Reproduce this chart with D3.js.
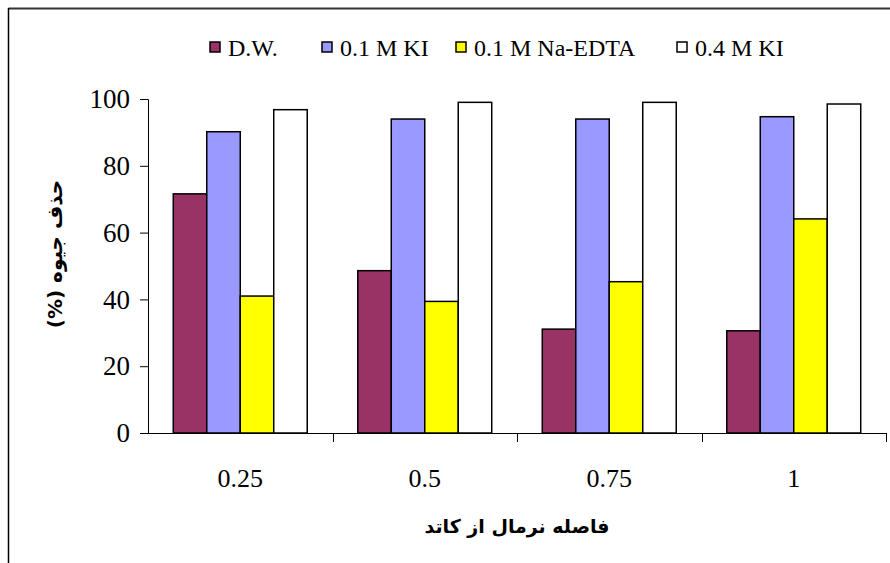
<!DOCTYPE html>
<html>
<head>
<meta charset="utf-8">
<script src="https://cdn.jsdelivr.net/npm/d3@7"></script>
<style>
  body { margin: 0; background: #fff; }
  svg { display: block; }
</style>
</head>
<body>
<svg id="chart" width="890" height="563"></svg>
<script>
const categories = ["0.25", "0.5", "0.75", "1"];
const seriesNames = ["D.W.", "0.1 M KI", "0.1 M Na-EDTA", "0.4 M KI"];
const dw      = [71.6, 48.6, 31.1, 30.6];
const ki01    = [90.2, 94.0, 94.0, 94.7];
const edta01  = [41.0, 39.4, 45.3, 64.1];
const ki04    = [96.8, 99.0, 99.0, 98.5];
const yTicks  = [0, 20, 40, 60, 80, 100];
const colors  = ["#993366", "#9999FF", "#FFFF00", "#FFFFFF"];
const yTitle  = "حذف جیوه (%)";
const xTitle  = "فاصله نرمال از کاتد";

const seriesValues = [dw, ki01, edta01, ki04];
const table = categories.map((c, i) => ({
  cat: c,
  vals: seriesNames.map((s, j) => ({ key: s, idx: j, value: seriesValues[j][i] }))
}));

const svg = d3.select("#chart");
const pLeft = 148, pRight = 886, pTop = 99, pBottom = 433;
const serif = "'Liberation Serif', 'Times New Roman', serif";

// outer frame (left and top only, as in reference)
svg.append("line").attr("x1", 8.5).attr("y1", 8.5).attr("x2", 890).attr("y2", 8.5)
  .attr("stroke", "#333").attr("stroke-width", 2);
svg.append("line").attr("x1", 8.5).attr("y1", 8).attr("x2", 8.5).attr("y2", 563)
  .attr("stroke", "#000").attr("stroke-width", 1.5);

const x0 = d3.scaleBand().domain(categories).range([pLeft, pRight])
  .paddingInner(0.274).paddingOuter(0.137);
const x1 = d3.scaleBand().domain(seriesNames).range([0, x0.bandwidth()]);
const y = d3.scaleLinear().domain([0, 100]).range([pBottom, pTop]);

// bars
const groups = svg.append("g").selectAll("g").data(table).join("g")
  .attr("transform", d => `translate(${x0(d.cat)},0)`);
groups.selectAll("rect").data(d => d.vals).join("rect")
  .attr("x", d => x1(d.key))
  .attr("y", d => y(d.value))
  .attr("width", x1.bandwidth())
  .attr("height", d => y(0) - y(d.value))
  .attr("fill", d => colors[d.idx])
  .attr("stroke", "#000")
  .attr("stroke-width", 1.5);

// y axis
const yAxis = svg.append("g").attr("transform", `translate(${pLeft},0)`)
  .call(d3.axisLeft(y).tickValues(yTicks).tickSize(8).tickPadding(10).tickFormat(d3.format("d")));
yAxis.select(".domain").attr("stroke", "#000").attr("stroke-width", 1);
yAxis.selectAll(".tick line").attr("stroke", "#000");
yAxis.selectAll("text").attr("font-family", serif)
  .attr("font-size", 27).attr("fill", "#000");

// x axis: line + ticks at category boundaries
const xAxisG = svg.append("g");
xAxisG.append("line").attr("x1", pLeft).attr("x2", pRight).attr("y1", pBottom + 0.5).attr("y2", pBottom + 0.5)
  .attr("stroke", "#000").attr("stroke-width", 1);
const step = x0.step();
const boundaries = d3.range(categories.length + 1).map(i => pLeft + i * step);
xAxisG.selectAll("line.tk").data(boundaries.slice(1)).join("line").attr("class", "tk")
  .attr("x1", d => Math.round(d) + 0.5).attr("x2", d => Math.round(d) + 0.5)
  .attr("y1", pBottom).attr("y2", pBottom + 9).attr("stroke", "#000");
xAxisG.selectAll("text").data(categories).join("text")
  .attr("x", d => x0(d) + x0.bandwidth() / 2)
  .attr("y", 487)
  .attr("text-anchor", "middle")
  .attr("font-family", serif)
  .attr("font-size", 26)
  .text(d => d);

// axis titles
svg.append("text")
  .attr("x", (pLeft + pRight) / 2).attr("y", 533)
  .attr("text-anchor", "middle")
  .attr("direction", "rtl")
  .attr("font-family", "'DejaVu Sans', sans-serif")
  .attr("font-weight", "bold").attr("font-size", 19)
  .text(xTitle);
svg.append("text")
  .attr("transform", "translate(62,254) rotate(-90)")
  .attr("text-anchor", "middle")
  .attr("direction", "rtl")
  .attr("font-family", "'DejaVu Sans', sans-serif")
  .attr("font-weight", "bold").attr("font-size", 20)
  .text(yTitle);

// legend
const legendX = [210, 322, 456, 677];
const legend = svg.append("g");
seriesNames.forEach((s, i) => {
  legend.append("rect").attr("x", legendX[i]).attr("y", 42).attr("width", 10).attr("height", 10)
    .attr("fill", colors[i]).attr("stroke", "#000").attr("stroke-width", 1.5);
  legend.append("text").attr("x", legendX[i] + 18).attr("y", 56)
    .attr("font-family", serif)
    .attr("font-size", 24).text(s);
});
</script>
</body>
</html>
